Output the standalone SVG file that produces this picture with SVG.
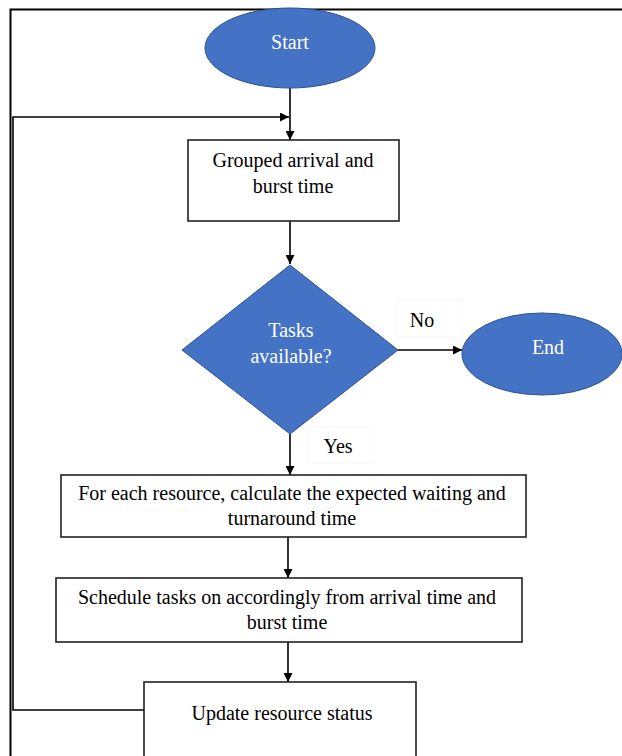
<svg xmlns="http://www.w3.org/2000/svg" width="622" height="756" viewBox="0 0 622 756">
<style>
.t{font-family:"Liberation Serif","Times New Roman",serif;font-size:20px;fill:#000;text-anchor:middle}
.w{fill:#fff}
.box{fill:#fff;stroke:#222;stroke-width:1.6}
.blue{fill:#4472C4;stroke:#2F528F;stroke-width:1}
.ln{fill:none;stroke:#000;stroke-width:1.6}
</style>
<defs>
<marker id="ah" viewBox="0 0 10 10" refX="10" refY="5" markerWidth="9" markerHeight="9" markerUnits="userSpaceOnUse" orient="auto">
<path d="M0,0 L10,5 L0,10 Z" fill="#000"/>
</marker>
</defs>
<rect width="622" height="756" fill="#fff"/>
<path d="M10.5,756 V9.5 H622" fill="none" stroke="#000" stroke-width="2"/>
<g id="connectors">
<line class="ln" x1="290" y1="88" x2="290" y2="140" marker-end="url(#ah)"/>
<path class="ln" d="M144,710 H13 V117 H289" marker-end="url(#ah)"/>
<line class="ln" x1="290" y1="221" x2="290" y2="264" marker-end="url(#ah)"/>
<line class="ln" x1="398" y1="350" x2="462" y2="350" marker-end="url(#ah)"/>
<line class="ln" x1="290" y1="434" x2="290" y2="475" marker-end="url(#ah)"/>
<line class="ln" x1="288" y1="537" x2="288" y2="578" marker-end="url(#ah)"/>
<line class="ln" x1="288" y1="642" x2="288" y2="682" marker-end="url(#ah)"/>
</g>
<g id="start">
<ellipse class="blue" cx="290" cy="48" rx="85" ry="40"/>
<text class="t w" x="290" y="49">Start</text>
</g>
<g id="grouped">
<rect class="box" x="188" y="140" width="211" height="81"/>
<text class="t" x="293" y="167">Grouped arrival and</text>
<text class="t" x="293" y="193">burst time</text>
</g>
<g id="decision">
<polygon class="blue" points="290,265 398,350 290,434 182,350"/>
<text class="t w" x="291" y="337">Tasks</text>
<text class="t w" x="291" y="363">available?</text>
</g>
<g id="no-label">
<rect x="397" y="300" width="65" height="37" fill="#fff" stroke="#f2f2f2" stroke-width="0.8"/>
<text class="t" x="422" y="327">No</text>
</g>
<g id="end">
<ellipse class="blue" cx="542" cy="354" rx="80" ry="41"/>
<text class="t w" x="548" y="354">End</text>
</g>
<g id="yes-label">
<rect x="308" y="427" width="66" height="36" fill="#fff" stroke="#f2f2f2" stroke-width="0.8"/>
<text class="t" x="338" y="453">Yes</text>
</g>
<g id="calculate">
<rect class="box" x="61" y="475" width="465" height="62"/>
<text class="t" x="292" y="500">For each resource, calculate the expected waiting and</text>
<text class="t" x="292" y="525">turnaround time</text>
</g>
<g id="schedule">
<rect class="box" x="56" y="578" width="466" height="64"/>
<text class="t" x="287" y="604">Schedule tasks on accordingly from arrival time and</text>
<text class="t" x="287" y="629">burst time</text>
</g>
<g id="update">
<rect class="box" x="144" y="682" width="272" height="90"/>
<text class="t" x="282" y="720">Update resource status</text>
</g>
</svg>
